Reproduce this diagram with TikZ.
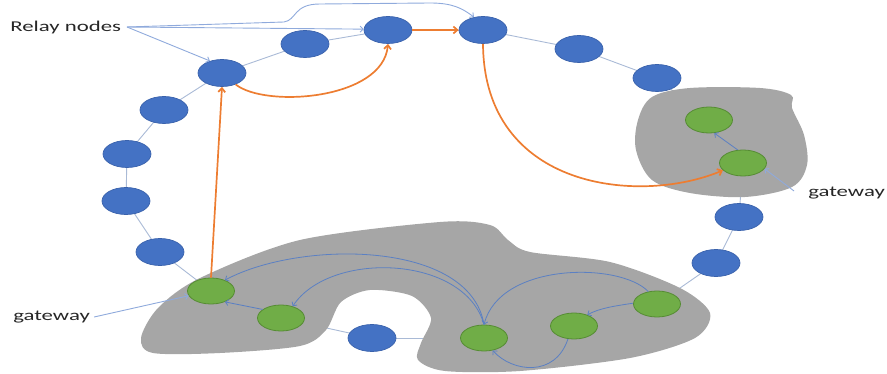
\documentclass[tikz,border=0pt]{standalone}
\usepackage{fontspec}
\setmainfont{Carlito}
\usetikzlibrary{arrows.meta,shapes.geometric}
\pgfdeclarelayer{bg}
\pgfdeclarelayer{blob}
\pgfsetlayers{bg,blob,main}
\definecolor{nodeblue}{HTML}{4472C4}
\definecolor{nodeblueb}{HTML}{3A62AC}
\definecolor{nodegreen}{HTML}{70AD47}
\definecolor{nodegreenb}{HTML}{568C34}
\definecolor{blobgray}{HTML}{A6A6A6}
\definecolor{ringc}{HTML}{A9BAD6}
\definecolor{orangec}{HTML}{ED7D31}
\definecolor{innerc}{HTML}{5B80C3}
\definecolor{labc}{HTML}{8FAADC}
\definecolor{txtc}{HTML}{262626}
\tikzset{
  relay/.style={ellipse, fill=nodeblue, draw=nodeblueb, line width=0.7pt, minimum width=48pt, minimum height=27pt, inner sep=0pt},
  gw/.style={ellipse, fill=nodegreen, draw=nodegreenb, line width=0.8pt, minimum width=47pt, minimum height=26pt, inner sep=0pt},
  ringline/.style={draw=ringc, line width=0.9pt},
  blobfill/.style={fill=blobgray, draw=none},
  orangearrow/.style={draw=orangec, line width=1.7pt, -{Straight Barb[length=4pt,width=7pt]}},
  innerarrow/.style={draw=innerc, line width=0.8pt, -{Straight Barb[length=3pt,width=6pt]}},
  labarrow/.style={draw=labc, line width=0.9pt, -{Straight Barb[length=3pt,width=6pt]}},
  lab/.style={text=txtc, font=\fontsize{15}{18}\selectfont, xscale=1.52, inner sep=0pt}
}
\begin{document}
\begin{tikzpicture}[x=1pt,y=-1pt]
\useasboundingbox (0,0) rectangle (887,374);
% relay nodes
\node[relay] (B1) at (222,73) {};
\node[relay] (B2) at (305,44) {};
\node[relay] (B3) at (388,30) {};
\node[relay] (B4) at (483,30) {};
\node[relay] (B5) at (579,49) {};
\node[relay] (B6) at (657,78) {};
\node[relay] (B7) at (164,110) {};
\node[relay] (B8) at (127,154) {};
\node[relay] (B9) at (126,201) {};
\node[relay] (B10) at (160,252) {};
\node[relay] (B11) at (372,338) {};
\node[relay] (B12) at (739,217) {};
\node[relay] (B13) at (716,263) {};
% gateway / cluster nodes
\node[gw] (G1) at (211,291) {};
\node[gw] (G2) at (281,318) {};
\node[gw] (G3) at (484,338) {};
\node[gw] (G4) at (574,326) {};
\node[gw] (G5) at (657,304) {};
\node[gw] (G6) at (709,120) {};
\node[gw] (G7) at (743,163) {};
% labels
\node[lab, anchor=west] (relaylab) at (10,28) {Relay nodes};
\node[lab, anchor=west] (gwL) at (13,317) {gateway};
\node[lab, anchor=west] (gwR) at (808,193) {gateway};
\coordinate (relayout) at (127,27);
\coordinate (gwRout) at (794,191);
% ring lines (background)
\begin{pgfonlayer}{bg}
\foreach \a/\b in {B1/B2,B2/B3,B3/B4,B4/B5,B5/B6,B6/G6,B1/B7,B7/B8,B8/B9,B9/B10,B10/G1,G7/B12,B12/B13,B13/G5,G2/B11,B11/G3}
  \draw[ringline] (\a.center) -- (\b.center);
\end{pgfonlayer}
% gray regions
\begin{pgfonlayer}{blob}
\path[blobfill] plot[smooth cycle, tension=0.55] coordinates {
 (638,120) (652,97) (690,88) (760,88) (791,95) (792,108) (804,135) (807,165) (792,187) (745,197) (690,193) (652,180) (636,150)};
\path[blobfill] plot[smooth cycle, tension=0.5] coordinates {
 (141,338) (158,308) (200,278) (300,240) (440,222) (490,225) (508,240) (530,252) (610,262) (680,288) (710,313) (695,338) (630,358) (520,371) (445,371) (418,360) (421,343) (431,318) (412,296) (370,290) (341,302) (326,330) (300,346) (220,353) (153,353)};
\end{pgfonlayer}
% label arrows
\draw[labarrow] (relayout) -- (B1.135);
\draw[labarrow] (relayout) -- (B3.178);
\draw[labarrow] (relayout) -- (284,22) .. controls (297,20) and (293,4) .. (320,4) -- (430,3) .. controls (452,3) and (462,8) .. (B4.125);
\draw[labarrow] (gwL.east) ++(4,0) -- (G1.192);
\draw[labarrow] (gwRout) -- (G7.-15);
% orange arrows
\draw[orangearrow] (G1.north) -- (B1.south);
\draw[orangearrow] (B1.-40) .. controls (265,108) and (383,100) .. (B3.south);
\draw[orangearrow] (B3.east) -- (B4.west);
\draw[orangearrow] (B4.south) .. controls (484,190) and (640,205) .. (G7.200);
% inner arrows
\draw[innerarrow] (G7.112) -- (G6.-68);
\draw[innerarrow] (G2.155) -- (G1.-38);
\draw[innerarrow] (G3.north) .. controls (470,240) and (300,240) .. (G1.38);
\draw[innerarrow] (G3.north) .. controls (465,255) and (330,250) .. (G2.45);
\draw[innerarrow] (G5.125) .. controls (620,262) and (500,262) .. (G3.north);
\draw[innerarrow] (G5.178) .. controls (615,306) and (600,308) .. (G4.40);
\draw[innerarrow] (G4.245) .. controls (555,378) and (512,372) .. (G3.-55);
\end{tikzpicture}
\end{document}
